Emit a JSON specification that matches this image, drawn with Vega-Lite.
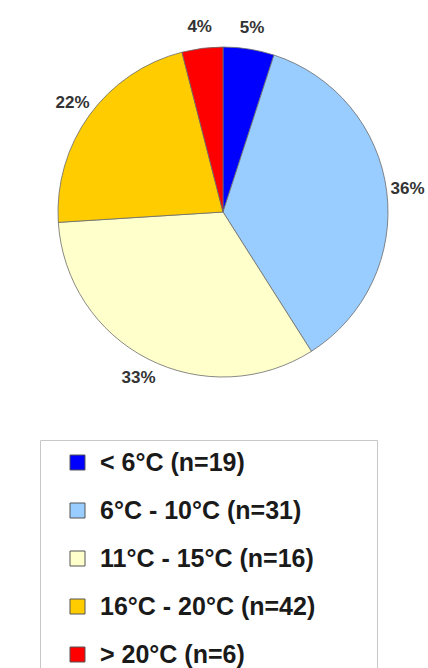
{
  "$schema": "https://vega.github.io/schema/vega-lite/v6.json",
  "width": 410,
  "height": 424,
  "autosize": {"type": "none"},
  "padding": {"left": 18, "top": 0, "right": 0, "bottom": 244},
  "background": "white",
  "config": {"view": {"stroke": null}},
  "data": {
    "values": [
      {"cat": "< 6°C (n=19)", "pct": 5, "label": "5%", "o": 1},
      {"cat": "6°C - 10°C (n=31)", "pct": 36, "label": "36%", "o": 2},
      {"cat": "11°C - 15°C (n=16)", "pct": 33, "label": "33%", "o": 3},
      {"cat": "16°C - 20°C (n=42)", "pct": 22, "label": "22%", "o": 4},
      {"cat": "> 20°C (n=6)", "pct": 4, "label": "4%", "o": 5}
    ]
  },
  "encoding": {
    "theta": {"field": "pct", "type": "quantitative", "stack": true},
    "order": {"field": "o", "type": "quantitative"}
  },
  "layer": [
    {
      "mark": {"type": "arc", "outerRadius": 165, "stroke": "#6b6b6b", "strokeWidth": 0.8},
      "encoding": {
        "color": {
          "field": "cat",
          "type": "nominal",
          "sort": null,
          "scale": {
            "domain": ["< 6°C (n=19)", "6°C - 10°C (n=31)", "11°C - 15°C (n=16)", "16°C - 20°C (n=42)", "> 20°C (n=6)"],
            "range": ["#0000ff", "#99ccff", "#ffffcc", "#ffcc00", "#ff0000"]
          },
          "legend": {
            "title": "\u00a0",
            "titleOrient": "right",
            "titlePadding": 52,
            "titleFontSize": 2,
            "orient": "none",
            "legendX": 22,
            "legendY": 440,
            "padding": 10,
            "symbolOffset": 15,
            "strokeColor": "#c8c8c8",
            "fillColor": "white",
            "symbolType": "square",
            "symbolSize": 225,
            "symbolStrokeColor": "#555555",
            "symbolStrokeWidth": 1,
            "labelFont": "Liberation Sans",
            "labelFontSize": 25,
            "labelFontWeight": "bold",
            "labelColor": "#1a1a1a",
            "labelOffset": 10,
            "labelLimit": 400,
            "rowPadding": 22
          }
        }
      }
    },
    {
      "mark": {"type": "text", "radius": 186, "font": "Liberation Sans", "fontSize": 17, "fontWeight": "bold", "fill": "#333333"},
      "encoding": {"text": {"field": "label"}}
    }
  ]
}
